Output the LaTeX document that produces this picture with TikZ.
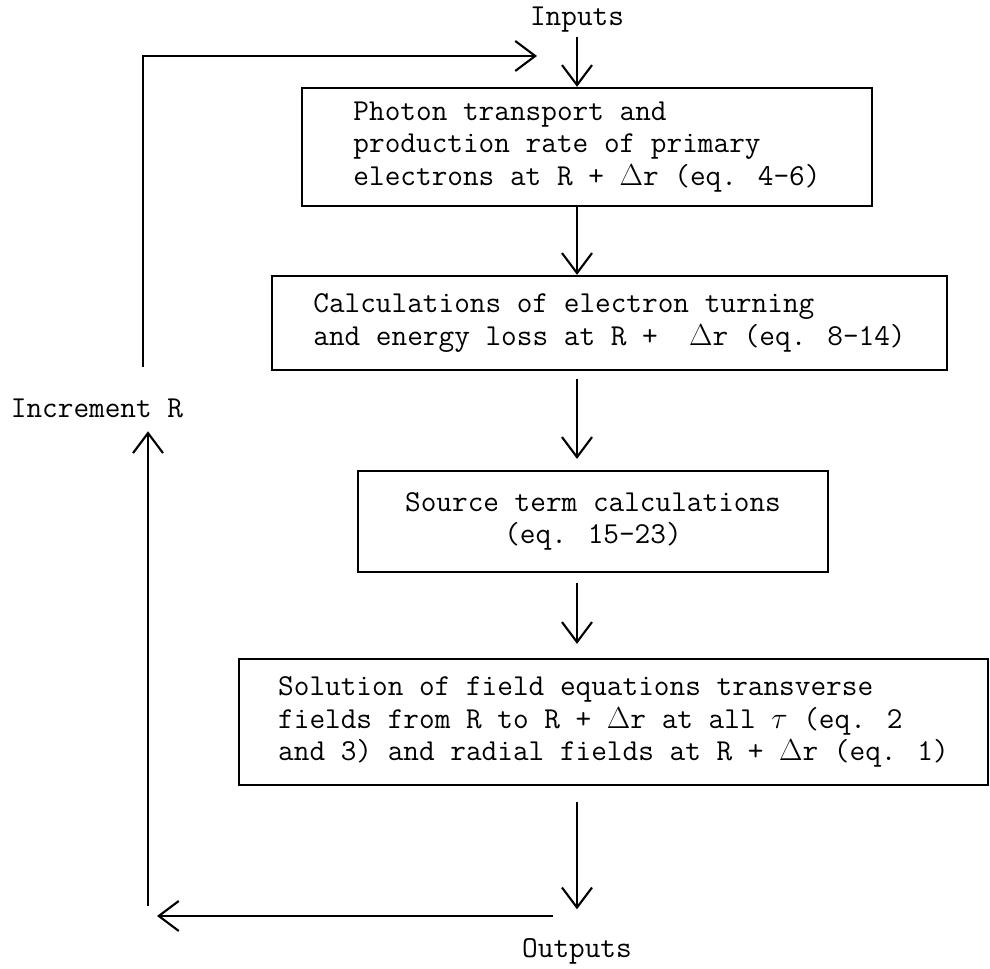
\documentclass[tikz,border=0pt]{standalone}
\usepackage{fontspec}
\usetikzlibrary{arrows.meta}

\begin{document}
\begin{tikzpicture}[
        every node/.style={font=\ttfamily\fontsize{17.3pt}{18.6pt}\selectfont, inner sep=2pt},
        stage/.style={draw=black, line width=1.3pt, inner sep=0pt, align=left},
        flow/.style={line width=1.2pt, -{Straight Barb[length=4mm,width=6mm]}}
    ]
        \useasboundingbox (0,0) rectangle (19.8,19.38);

        \node (inputs) at (11.54,18.98) {Inputs};
        \node[stage, minimum width=11.4cm, minimum height=2.36cm] (photon) at (11.74,16.44)
            {Photon transport and\\production rate of primary\\electrons at R + $\Delta$r (eq. 4-6)};
        \node[stage, minimum width=13.5cm, minimum height=1.88cm] (turning) at (12.19,12.92)
            {Calculations of electron turning\\and energy loss at R +\ \ $\Delta$r (eq. 8-14)};
        \node[stage, align=center, minimum width=9.4cm, minimum height=2.02cm] (source) at (11.86,8.95)
            {Source term calculations\\(eq. 15-23)};
        \node[stage, minimum width=14.98cm, minimum height=2.52cm] (field) at (12.27,4.94)
            {Solution of field equations transverse\\fields from R to R + $\Delta$r at all $\tau$ (eq. 2\\and 3) and radial fields at R + $\Delta$r (eq. 1)};
        \node (outputs) at (11.54,0.36) {Outputs};
        \node (incr) at (1.94,11.22) {Increment R};

        \coordinate (corner) at (2.86,18.26);
        \coordinate (feedin) at (10.74,18.26);
        \coordinate (retstart) at (11.06,1.06);
        \coordinate (retend) at (3.14,1.06);
        \coordinate (lowbot) at (2.96,1.26);

        \draw[flow] (inputs.south) -- (inputs.south |- photon.north);
        \draw[flow] (photon.south -| inputs) -- (turning.north -| inputs);
        \draw[flow, shorten <=0.16cm, shorten >=0.22cm] (turning.south -| inputs) -- (source.north -| inputs);
        \draw[flow, shorten <=0.2cm, shorten >=0.28cm] (source.south -| inputs) -- (field.north -| inputs);
        \draw[flow, shorten <=0.32cm, shorten >=0.5cm] (field.south -| outputs) -- (outputs.north);

        \draw[flow] (retstart) -- (retend);
        \draw[flow, shorten >=0.2cm] (lowbot) -- (lowbot |- incr.south);
        \draw[flow, shorten <=0.55cm] (incr.north -| corner) -- (corner) -- (feedin);
    \end{tikzpicture}
\end{document}
